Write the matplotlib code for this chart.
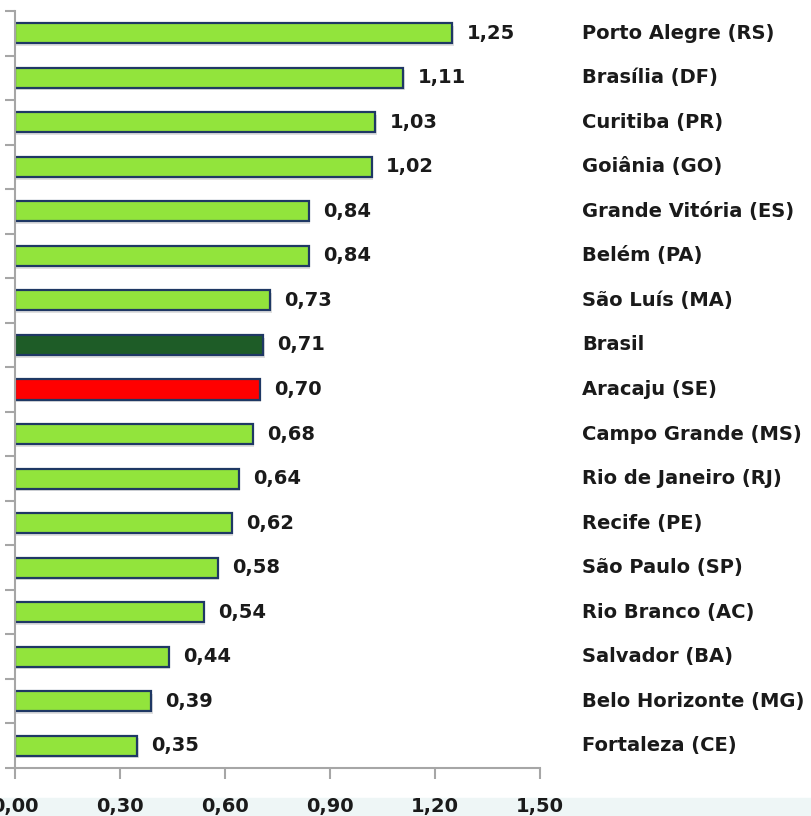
import numpy as np
import matplotlib
matplotlib.use("Agg")
import matplotlib.pyplot as plt
import matplotlib.transforms as mtransforms
from matplotlib.patches import Rectangle

plt.rcParams['font.family'] = ['DejaVu Sans']

cities = ['Porto Alegre (RS)', 'Brasília (DF)', 'Curitiba (PR)', 'Goiânia (GO)',
          'Grande Vitória (ES)', 'Belém (PA)', 'São Luís (MA)', 'Brasil',
          'Aracaju (SE)', 'Campo Grande (MS)', 'Rio de Janeiro (RJ)', 'Recife (PE)',
          'São Paulo (SP)', 'Rio Branco (AC)', 'Salvador (BA)',
          'Belo Horizonte (MG)', 'Fortaleza (CE)']
values = [1.25, 1.11, 1.03, 1.02, 0.84, 0.84, 0.73, 0.71, 0.70, 0.68, 0.64,
          0.62, 0.58, 0.54, 0.44, 0.39, 0.35]
xticks = [0.0, 0.3, 0.6, 0.9, 1.2, 1.5]

green = '#92E43C'
colors = [green] * len(values)
colors[cities.index('Brasil')] = '#1E5C27'
colors[cities.index('Aracaju (SE)')] = '#FF0000'

fig = plt.figure(figsize=(8.12, 8.16), dpi=100)
# pale band at the very bottom of the slide
fig.patches.append(Rectangle((0, 0), 1, 18/816, transform=fig.transFigure,
                             color='#EEF6F6', zorder=-1))
ax = fig.add_axes([15/812, 1 - 768/816, (540 - 15)/812, (768 - 11)/816])
ax.patch.set_alpha(0)

y = np.arange(len(values))
# soft shadow under bars
ax.barh(y + 0.06, values, height=0.45, color='#000000', alpha=0.12,
        left=0.004, linewidth=0, zorder=1)
ax.barh(y, values, height=0.45, color=colors, edgecolor='#1F3864',
        linewidth=1.6, zorder=2)

ax.set_xlim(0, 1.5)
ax.set_ylim(len(values) - 0.5, -0.5)

# value labels
off = mtransforms.offset_copy(ax.transData, fig=fig, x=14, y=0, units='dots')
for i, v in enumerate(values):
    ax.text(v, i, f'{v:.2f}'.replace('.', ','), transform=off, ha='left',
            va='center', fontsize=14, fontweight='bold', color='#1a1a1a')

# category labels on the right
tr = mtransforms.blended_transform_factory(fig.transFigure, ax.transData)
for i, c in enumerate(cities):
    fig.text(582/812, i, c, transform=tr, ha='left', va='center',
             fontsize=14, fontweight='bold', color='#1a1a1a')

# axes styling
for s in ['top', 'right']:
    ax.spines[s].set_visible(False)
for s in ['left', 'bottom']:
    ax.spines[s].set_color('#A6A6A6')
    ax.spines[s].set_linewidth(1.5)

ax.set_yticks(np.arange(-0.5, len(values) + 0.5, 1))
ax.set_yticklabels([])
ax.tick_params(axis='y', length=7, width=1.5, color='#A6A6A6')

ax.set_xticks(xticks)
ax.set_xticklabels([f'{t:.2f}'.replace('.', ',') for t in xticks],
                   fontsize=14, fontweight='bold', color='#1a1a1a')
ax.tick_params(axis='x', length=8, width=1.5, color='#A6A6A6', pad=13)

fig.savefig('out.png', dpi=100)
